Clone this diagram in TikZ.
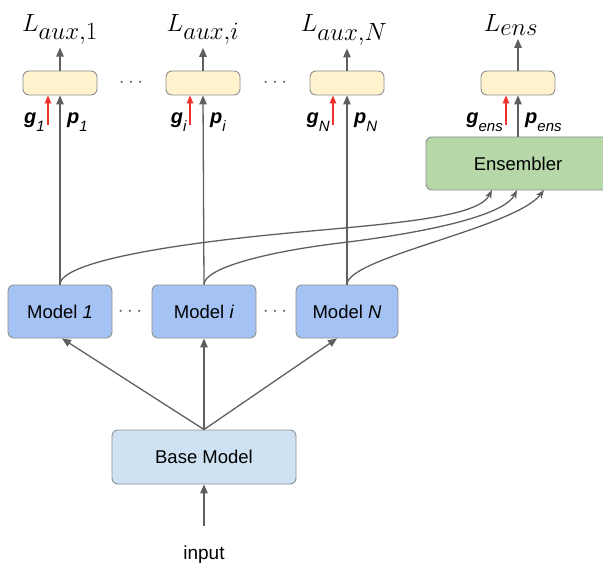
\documentclass[tikz,border=0pt]{standalone}
\usepackage{fontspec}
\setmainfont{Liberation Sans}
\usetikzlibrary{arrows.meta}
\definecolor{ln}{HTML}{5F5F5F}
\definecolor{bd}{HTML}{8E8E8E}
\definecolor{yel}{HTML}{FFF2CC}
\definecolor{blu}{HTML}{A4C2F4}
\definecolor{lbl}{HTML}{CFE2F3}
\definecolor{grn}{HTML}{B6D7A8}
\definecolor{rd}{HTML}{F2302B}
\newcommand\gpl[2]{\fontsize{20}{20}\selectfont\textbf{\textit{#1}}\raisebox{-8pt}{\fontsize{15}{15}\selectfont\textit{#2}}}
\begin{document}
\begin{tikzpicture}[x=1pt,y=-1pt,
  boxbase/.style={draw=bd, line width=0.9pt, rounded corners=6pt, inner sep=0pt, text=black,
    font=\fontsize{18.5}{20}\selectfont},
  ybox/.style={boxbase, fill=yel, minimum width=74pt, minimum height=24pt},
  mbox/.style={boxbase, fill=blu, minimum width=104pt, minimum height=53pt},
  arr/.style={draw=ln, line width=1.3pt, -{Triangle[length=9pt,width=7.5pt]}},
  carr/.style={draw=ln, line width=1.3pt, -{Stealth[length=8.5pt,width=6.5pt,inset=2.5pt]}},
  rarr/.style={draw=rd, line width=1.3pt, -{Triangle[length=8pt,width=6.5pt]}},
  Llab/.style={inner sep=0pt, anchor=base, font=\fontsize{33}{35}\selectfont},
  gp/.style={inner sep=0pt},
  dots/.style={inner sep=0pt, text=ln, font=\fontsize{20}{20}\selectfont}
]
\useasboundingbox (0,0) rectangle (603,567);
\clip (0,0) rectangle (603,567);

% top boxes
\node[ybox] (y1) at (60,83) {};
\node[ybox] (yi) at (203,83) {};
\node[ybox] (yN) at (347,83) {};
\node[ybox] (ye) at (518,83) {};
\node[dots] (d1) at (131,83) {$\cdots$};
\node[dots] (d2) at (275,83) {$\cdots$};

% loss labels
\node[Llab] (L1) at (60,32) {$L_{aux,1}$};
\node[Llab] (Li) at (203,32) {$L_{aux,i}$};
\node[Llab] (LN) at (344,32) {$L_{aux,N}$};
\node[Llab] (Le) at (511,32) {$L_{ens}$};
\draw[arr, shorten >=3pt] (y1.north) -- (L1.south);
\draw[arr, shorten >=3pt] (yi.north) -- (Li.south -| yi.north);
\draw[arr, shorten >=3pt] (yN.north) -- (LN.south -| yN.north);
\draw[arr, shorten >=3pt] (ye.north) -- (Le.south -| ye.north);

% ensembler
\node[boxbase, fill=grn, minimum width=184pt, minimum height=53pt] (ens) at (518,163.5) {Ensembler};

% models
\node[mbox] (m1) at (60,311.5) {Model \textit{1}};
\node[mbox] (mi) at (204,311.5) {Model \textit{i}};
\node[mbox, minimum width=102pt] (mN) at (347,311.5) {Model \textit{N}};
\node[dots] (d3) at (130,312) {$\cdots$};
\node[dots] (d4) at (275,312) {$\cdots$};

% base + input
\node[boxbase, fill=lbl, minimum width=184pt, minimum height=54pt] (base) at (204,457) {Base Model};
\node[inner sep=0pt, anchor=base, font=\fontsize{19}{20}\selectfont] (inp) at (204,559) {input};
\draw[arr, shorten <=19pt] (inp.north) -- (base.south);

% base to models
\draw[arr] (base.north) -- ([xshift=2pt]m1.south);
\draw[arr] (base.north) -- (mi.south);
\draw[arr] (base.north) -- ([xshift=-10pt]mN.south);

% model to top boxes
\draw[arr] (m1.north) -- (y1.south);
\draw[arr] (mi.north) -- (yi.south);
\draw[arr] (mN.north) -- (yN.south);
\draw[arr] (ens.north) -- (ye.south);

% curves to ensembler
\coordinate (e1) at (492,190);
\coordinate (e2) at (517,190);
\coordinate (e3) at (544,190);
\coordinate (q1) at (300,232);
\coordinate (q2) at (340,243);
\draw[carr] (m1.north) .. controls +(0,-20) and (150,245.5) .. (q1)
  .. controls (400,223) and +(-13.5,26.7) .. (e1);
\draw[carr] (mi.north) .. controls +(0,-17) and (270,251.4) .. (q2)
  .. controls (420,233.4) and +(-13.5,26.7) .. (e2);
\draw[carr] (mN.north) .. controls +(0,-27) and +(-29,38) .. (e3);

% red arrows
\coordinate (r1) at (48,125);
\coordinate (ri) at (190,125);
\coordinate (rN) at (333,125);
\coordinate (re) at (506,125);
\draw[rarr] (r1) -- (r1 |- y1.south);
\draw[rarr] (ri) -- (ri |- yi.south);
\draw[rarr] (rN) -- (rN |- yN.south);
\draw[rarr] (re) -- (re |- ye.south);

% g / p labels
\node[gp, anchor=base east] (g1) at (45,124) {\gpl{g}{1}};
\node[gp, anchor=base west] (p1) at (67,124) {\gpl{p}{1}};
\node[gp, anchor=base east] (gi) at (187,124) {\gpl{g}{i}};
\node[gp, anchor=base west] (pi) at (210,124) {\gpl{p}{i}};
\node[gp, anchor=base east] (gN) at (330,124) {\gpl{g}{N}};
\node[gp, anchor=base west] (pN) at (354,124) {\gpl{p}{N}};
\node[gp, anchor=base east] (ge) at (503,124) {\gpl{g}{ens}};
\node[gp, anchor=base west] (pe) at (525,124) {\gpl{p}{ens}};
\end{tikzpicture}
\end{document}
